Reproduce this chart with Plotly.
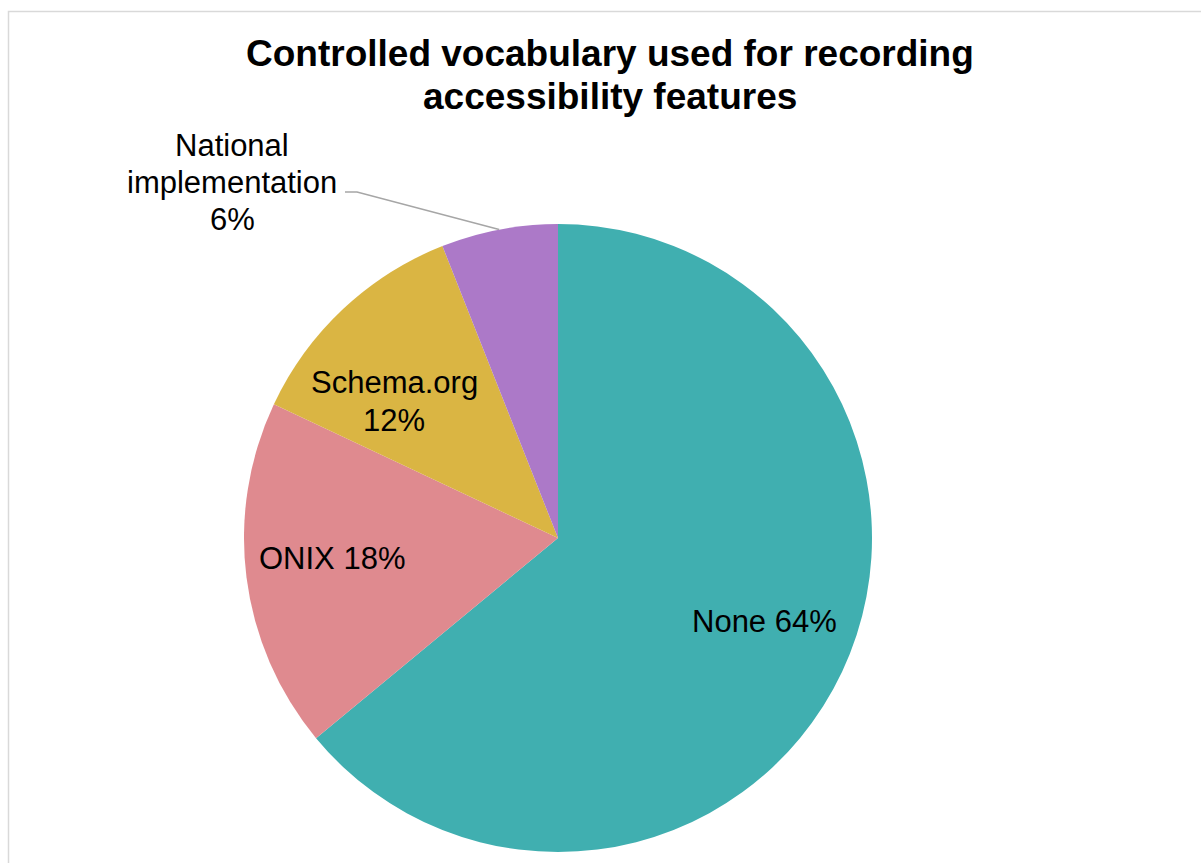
import math
import plotly.graph_objects as go

# Share of respondents by controlled vocabulary
categories = ["None", "ONIX", "Schema.org", "National implementation"]
shares = [64, 18, 12, 6]
colors = ["#40AFB0", "#DF8A8F", "#DAB543", "#AC79C8"]

title_lines = ["Controlled vocabulary used for recording", "accessibility features"]

W, H = 1201, 863
FONT = "Liberation Sans, Arial, sans-serif"

# Pie geometry in pixels
cx, cy, r = 558, 538, 314


def px(x):
    return x / W


def py(y):
    return 1 - y / H


fig = go.Figure()
fig.add_trace(go.Pie(
    labels=categories,
    values=shares,
    sort=False,
    direction="clockwise",
    rotation=0,
    marker=dict(colors=colors, line=dict(width=0)),
    textinfo="none",
    hovertemplate="%{label}: %{value}%<extra></extra>",
    domain=dict(x=[px(cx - r), px(cx + r)], y=[py(cy + r), py(cy - r)]),
    showlegend=False,
))

annotations = []
# Title, one annotation per line for tight line spacing
for text, y in zip(title_lines, [54, 97]):
    annotations.append(dict(
        text=f"<b>{text}</b>", x=px(610), y=py(y), xref="paper", yref="paper",
        xanchor="center", yanchor="middle", showarrow=False,
        font=dict(family=FONT, size=37, color="#000000"),
    ))

# Inside data labels: (lines, centre x, first-line centre y)
inside_labels = {
    "None": ([f"None {shares[0]}%"], 764, 621),
    "ONIX": ([f"ONIX {shares[1]}%"], 332, 558),
    "Schema.org": (["Schema.org", f"{shares[2]}%"], 394, 383),
}
outside_label = (["National", "implementation", f"{shares[3]}%"], 232, 145)
line_gap = 37

for lines, x, y0 in list(inside_labels.values()) + [outside_label]:
    for i, t in enumerate(lines):
        annotations.append(dict(
            text=t, x=px(x), y=py(y0 + i * line_gap), xref="paper", yref="paper",
            xanchor="center", yanchor="middle", showarrow=False,
            font=dict(family=FONT, size=31, color="#000000"),
        ))

# Leader line from the outside label to the rim at the slice's mid-angle
total = sum(shares)
start = sum(shares[:3])
mid_angle = math.radians((start + shares[3] / 2) / total * 360)
ex = cx + r * math.sin(mid_angle)
ey = cy - r * math.cos(mid_angle)
leader = f"M {px(345)},{py(192)} L {px(357)},{py(192)} L {px(ex)},{py(ey)}"

shapes = [
    dict(type="path", path=leader, xref="paper", yref="paper",
         line=dict(color="#A6A6A6", width=1.5)),
    # Chart-area border
    dict(type="rect", xref="paper", yref="paper",
         x0=px(8.5), x1=px(1220), y0=py(880), y1=py(11.5),
         line=dict(color="#D9D9D9", width=1.5), fillcolor="rgba(0,0,0,0)"),
]

fig.update_layout(
    width=W, height=H,
    margin=dict(l=0, r=0, t=0, b=0),
    paper_bgcolor="#FFFFFF",
    plot_bgcolor="#FFFFFF",
    annotations=annotations,
    shapes=shapes,
)

fig.write_html("out.html")
